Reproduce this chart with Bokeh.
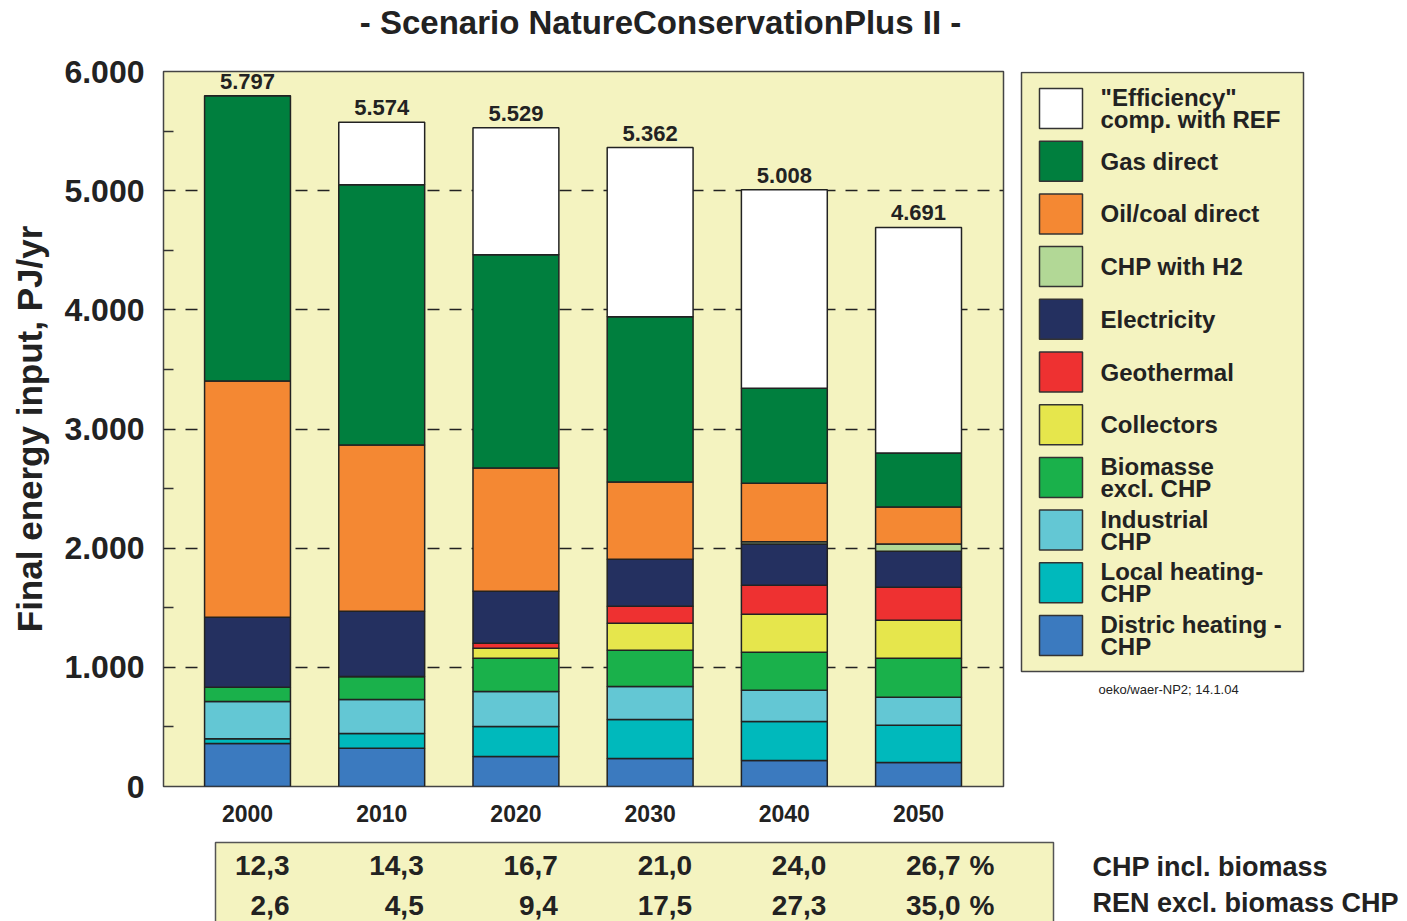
from bokeh.plotting import figure
from bokeh.layouts import row, column
from bokeh.models import Range1d, FixedTicker, LabelSet, ColumnDataSource
from bokeh.core.properties import value
from bokeh.embed import file_html
from bokeh.resources import INLINE

# ---------------- data ----------------
years = ["2000", "2010", "2020", "2030", "2040", "2050"]
totals = [5797, 5574, 5529, 5362, 5008, 4691]

district_chp = [360, 320, 252, 235, 218, 202]
local_chp = [40, 125, 252, 328, 328, 311]
industrial_chp = [314, 286, 294, 277, 261, 235]
biomass = [118, 193, 278, 303, 319, 328]
collectors = [0, 0, 84, 227, 319, 319]
geothermal = [0, 0, 42, 143, 244, 277]
electricity = [588, 547, 437, 395, 345, 303]
chp_h2 = [0, 0, 0, 0, 20, 59]
oil_coal = [1983, 1395, 1033, 647, 490, 311]
gas = [2394, 2184, 1790, 1386, 799, 453]
efficiency = [0, 524, 1067, 1421, 1665, 1893]

chp_share = [12.3, 14.3, 16.7, 21.0, 24.0, 26.7]
ren_share = [2.6, 4.5, 9.4, 17.5, 27.3, 35.0]

series_keys = ["district", "local", "industrial", "biomass", "collectors",
               "geothermal", "electricity", "h2", "oil", "gas", "eff"]
series_vals = [district_chp, local_chp, industrial_chp, biomass, collectors,
               geothermal, electricity, chp_h2, oil_coal, gas, efficiency]
series_colors = ["#3b7abf", "#00b9bc", "#63c7d4", "#1ab14b", "#e6e64c",
                 "#ee3131", "#243060", "#b2d896", "#f48833", "#007f3e", "#ffffff"]
legend_labels = {
    "eff": ["\"Efficiency\"", "comp. with REF"],
    "gas": ["Gas direct"],
    "oil": ["Oil/coal direct"],
    "h2": ["CHP with H2"],
    "electricity": ["Electricity"],
    "geothermal": ["Geothermal"],
    "collectors": ["Collectors"],
    "biomass": ["Biomasse", "excl. CHP"],
    "industrial": ["Industrial", "CHP"],
    "local": ["Local heating-", "CHP"],
    "district": ["Distric heating -", "CHP"],
}
title_text = "- Scenario NatureConservationPlus II -"

BG = "#f4f3c0"
TXT = "#222222"
FONT = "Liberation Sans"

PAGE_W = 1407
TITLE_H = 44
X0, X1 = -0.626, 5.633
FL, FR, FT, FB = 163, 1003, 71, 786   # frame edges in page pixels
MAIN_W, MAIN_BOTTOM = 1015, 835


def blank_panel(w, h, xr, yr):
    f = figure(width=w, height=h, x_range=Range1d(*xr), y_range=Range1d(*yr),
               output_backend="svg", toolbar_location=None, x_axis_type=None,
               y_axis_type=None, min_border=0)
    f.grid.visible = False
    f.outline_line_color = None
    f.background_fill_color = "white"
    f.border_fill_color = "white"
    return f


# ---------------- title strip ----------------
ptitle = blank_panel(PAGE_W, TITLE_H, (0, PAGE_W), (TITLE_H, 0))
ptitle.text(x=[660], y=[22], text=[title_text], text_align="center", text_baseline="middle",
            text_font=value(FONT), text_font_style="bold", text_font_size="33px",
            text_color=TXT)

# ---------------- main chart ----------------
MAIN_H = MAIN_BOTTOM - TITLE_H
p = figure(width=MAIN_W, height=MAIN_H, x_range=Range1d(X0, X1), y_range=Range1d(0, 6000),
           output_backend="svg", toolbar_location=None,
           min_border_left=FL, min_border_right=MAIN_W - FR,
           min_border_top=FT - TITLE_H, min_border_bottom=MAIN_BOTTOM - FB)
p.background_fill_color = BG
p.border_fill_color = "white"
p.outline_line_color = "#444444"
p.outline_line_width = 1.5

src = ColumnDataSource(dict(x=list(range(len(years))), **dict(zip(series_keys, series_vals))))
p.vbar_stack(stackers=series_keys, x="x", width=0.64, source=src,
             fill_color=series_colors, line_color="#222222", line_width=1.5)

yt = [0, 1000, 2000, 3000, 4000, 5000, 6000]
ym = [500, 1500, 2500, 3500, 4500, 5500]
yax = p.yaxis[0]
yax.ticker = FixedTicker(ticks=yt, minor_ticks=ym)
yax.major_label_overrides = {t: f"{t:,}".replace(",", ".") for t in yt}
yax.axis_line_color = None
yax.major_tick_line_color = None
yax.major_tick_in = 0
yax.major_tick_out = 0
yax.minor_tick_in = 10
yax.minor_tick_out = 0
yax.minor_tick_line_color = "#333333"
yax.minor_tick_line_width = 1.5
yax.major_label_standoff = 19
yax.major_label_text_font = FONT
yax.major_label_text_font_style = "bold"
yax.major_label_text_font_size = "32px"
yax.major_label_text_color = TXT
yax.axis_label = "Final energy input, PJ/yr"
yax.axis_label_standoff = 12
yax.axis_label_text_font = FONT
yax.axis_label_text_font_style = "bold"
yax.axis_label_text_font_size = "35px"
yax.axis_label_text_color = TXT

xax = p.xaxis[0]
xax.ticker = FixedTicker(ticks=list(range(len(years))))
xax.major_label_overrides = {i: y for i, y in enumerate(years)}
xax.axis_line_color = None
xax.major_tick_line_color = None
xax.minor_tick_line_color = None
xax.major_label_standoff = 12
xax.major_label_text_font = FONT
xax.major_label_text_font_style = "bold"
xax.major_label_text_font_size = "23px"
xax.major_label_text_color = TXT

p.xgrid.visible = False
p.ygrid.ticker = FixedTicker(ticks=yt)
p.ygrid.grid_line_color = "#222222"
p.ygrid.grid_line_width = 1.3
p.ygrid.grid_line_dash = "12 10"

tot_src = ColumnDataSource(dict(x=list(range(len(years))), y=totals,
                                t=[f"{v:,}".replace(",", ".") for v in totals]))
p.add_layout(LabelSet(x="x", y="y", text="t", source=tot_src, y_offset=7,
                      text_align="center", text_baseline="bottom",
                      text_font=value(FONT), text_font_style="bold", text_font_size="22px",
                      text_color=TXT))

# ---------------- legend panel (page-pixel coordinates) ----------------
# the row aligns this panel's frame with the main frame (page y FT..FB)
pl = blank_panel(PAGE_W - MAIN_W, MAIN_H, (MAIN_W, PAGE_W), (FB, FT))
pl.quad(left=[1021], right=[1303], top=[72], bottom=[671], fill_color=BG,
        line_color="#444444", line_width=1.5)
order = list(reversed(series_keys))
sw_cy = [108 + i * 52.7 for i in range(len(order))]
pl.quad(left=1039, right=1082, top=[c - 20 for c in sw_cy], bottom=[c + 20 for c in sw_cy],
        fill_color=[series_colors[series_keys.index(k)] for k in order],
        line_color="#333333", line_width=1.5)
tx, ty = [], []
for k, cy in zip(order, sw_cy):
    lines = legend_labels[k]
    ys = [cy] if len(lines) == 1 else [cy - 11, cy + 11]
    for ln, yy in zip(lines, ys):
        tx.append(ln)
        ty.append(yy)
pl.text(x=1100, y=ty, text=tx, text_align="left", text_baseline="middle",
        text_font=value(FONT), text_font_style="bold", text_font_size="24px", text_color=TXT)
pl.text(x=[1098], y=[689], text=["oeko/waer-NP2; 14.1.04"], text_align="left",
        text_baseline="middle", text_font=value(FONT), text_font_size="13px", text_color=TXT)

# ---------------- bottom table (page-pixel coordinates) ----------------
pt = blank_panel(PAGE_W, 921 - MAIN_BOTTOM, (0, PAGE_W), (921, MAIN_BOTTOM))
pt.quad(left=[215], right=[1053], top=[842], bottom=[935], fill_color=BG,
        line_color="#555555", line_width=1.5)

bar_px = [FL + (i - X0) / (X1 - X0) * (FR - FL) for i in range(len(years))]
a_txt = [f"{v:.1f}".replace(".", ",") for v in chp_share]
b_txt = [f"{v:.1f}".replace(".", ",") for v in ren_share]
for txts, yy in ((a_txt, 865), (b_txt, 905)):
    pt.text(x=bar_px, y=yy, text=txts, x_offset=42, text_align="right", text_baseline="middle",
            text_font=value(FONT), text_font_style="bold", text_font_size="28px", text_color=TXT)
    pt.text(x=[bar_px[-1]], y=[yy], text=["%"], x_offset=51, text_align="left",
            text_baseline="middle", text_font=value(FONT), text_font_style="bold",
            text_font_size="28px", text_color=TXT)
pt.text(x=[1092, 1092], y=[866, 902], text=["CHP incl. biomass", "REN excl. biomass CHP"],
        text_align="left", text_baseline="middle", text_font=value(FONT),
        text_font_style="bold", text_font_size="27px", text_color=TXT)

layout = column(ptitle, row(p, pl), pt)
open("out.html", "w").write(file_html(layout, INLINE))
